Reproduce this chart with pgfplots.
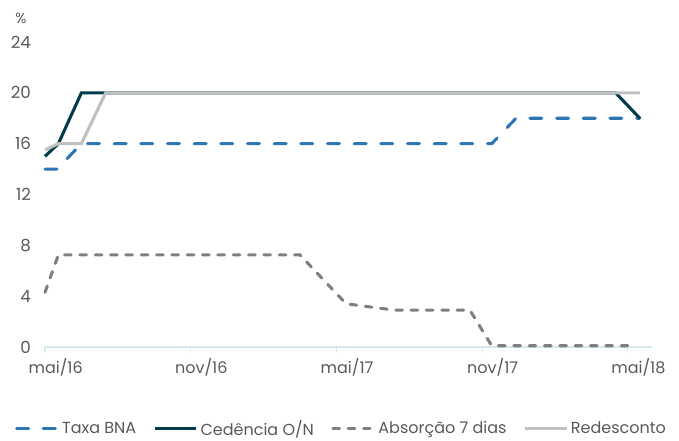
\documentclass[border=0pt]{standalone}
\usepackage{pgfplots}
\pgfplotsset{compat=1.18}
\usepackage{fontspec}
\setmainfont{Poppins}
\definecolor{bna}{HTML}{2E75B6}
\definecolor{ced}{HTML}{003C4C}
\definecolor{abs}{HTML}{7F7F7F}
\definecolor{red}{HTML}{C0C0C0}
\definecolor{txt}{HTML}{595959}
\definecolor{axl}{HTML}{D6E8F0}
\begin{document}
\begin{tikzpicture}
\begin{axis}[
  scale only axis,
  width=455.25pt, height=228.75pt,
  xmin=0, xmax=25, ymin=0, ymax=24,
  axis x line*=bottom, axis y line*=left,
  x axis line style={axl, line width=0.8pt},
  y axis line style={draw=none},
  xtick={0,6,12,18,24},
  xticklabels={mai/16,nov/16,mai/17,nov/17,mai/18},
  ytick={0,4,8,12,16,20,24},
  x tick style={axl, line width=0.8pt},
  tick align=outside, major tick length=4pt,
  x tick label style={text=txt, font=\fontsize{12}{14}\selectfont, yshift=-1pt, xshift=8pt},
  y tick label style={text=txt, font=\fontsize{12.5}{14}\selectfont, xshift=-3pt},
  /pgf/number format/assume math mode=true,
  ytick style={draw=none},
  clip=false,
  legend columns=-1,
  legend style={draw=none, fill=none, at={(0.489,-0.268)}, anchor=center, font=\fontsize{12}{14}\selectfont, text=txt,
    /tikz/every even column/.append style={column sep=11pt},
    /tikz/every odd column/.append style={column sep=0pt}},
  legend image code/.code={\draw[#1] (0pt,0pt) -- (31pt,0pt);},
]
\addplot[bna, line width=2.3pt, line cap=round, dash pattern=on 9pt off 11pt] coordinates {
(0,14) (0.5,14) (1.5,16) (18.4,16) (19.4,18) (24.5,18)};
\addlegendentry{Taxa BNA}
\addplot[ced, line width=2.3pt] coordinates {
(0,15) (0.55,16) (1.5,20) (23.5,20) (24.5,18)};
\addlegendentry{Cedência O/N}
\addplot[abs, line width=2.3pt, line cap=round, dash pattern=on 5pt off 6.5pt] coordinates {
(0,4.3) (0.55,7.25) (10.5,7.25) (12.4,3.4) (14.4,2.9) (17.5,2.9) (18.4,0.1) (24.0,0.1)};
\addlegendentry{Absorção 7 dias}
\addplot[red, line width=2.3pt] coordinates {
(0,15.5) (0.55,16) (1.5,16) (2.5,20) (24.5,20)};
\addlegendentry{Redesconto}
\end{axis}
\node[text=txt, font=\fontsize{11}{13}\selectfont] at (-18pt,246.75pt) {\%};
\pgfresetboundingbox
\path (-33.75pt,-70.5pt) rectangle (475.5pt,260.25pt);
\end{tikzpicture}
\end{document}
